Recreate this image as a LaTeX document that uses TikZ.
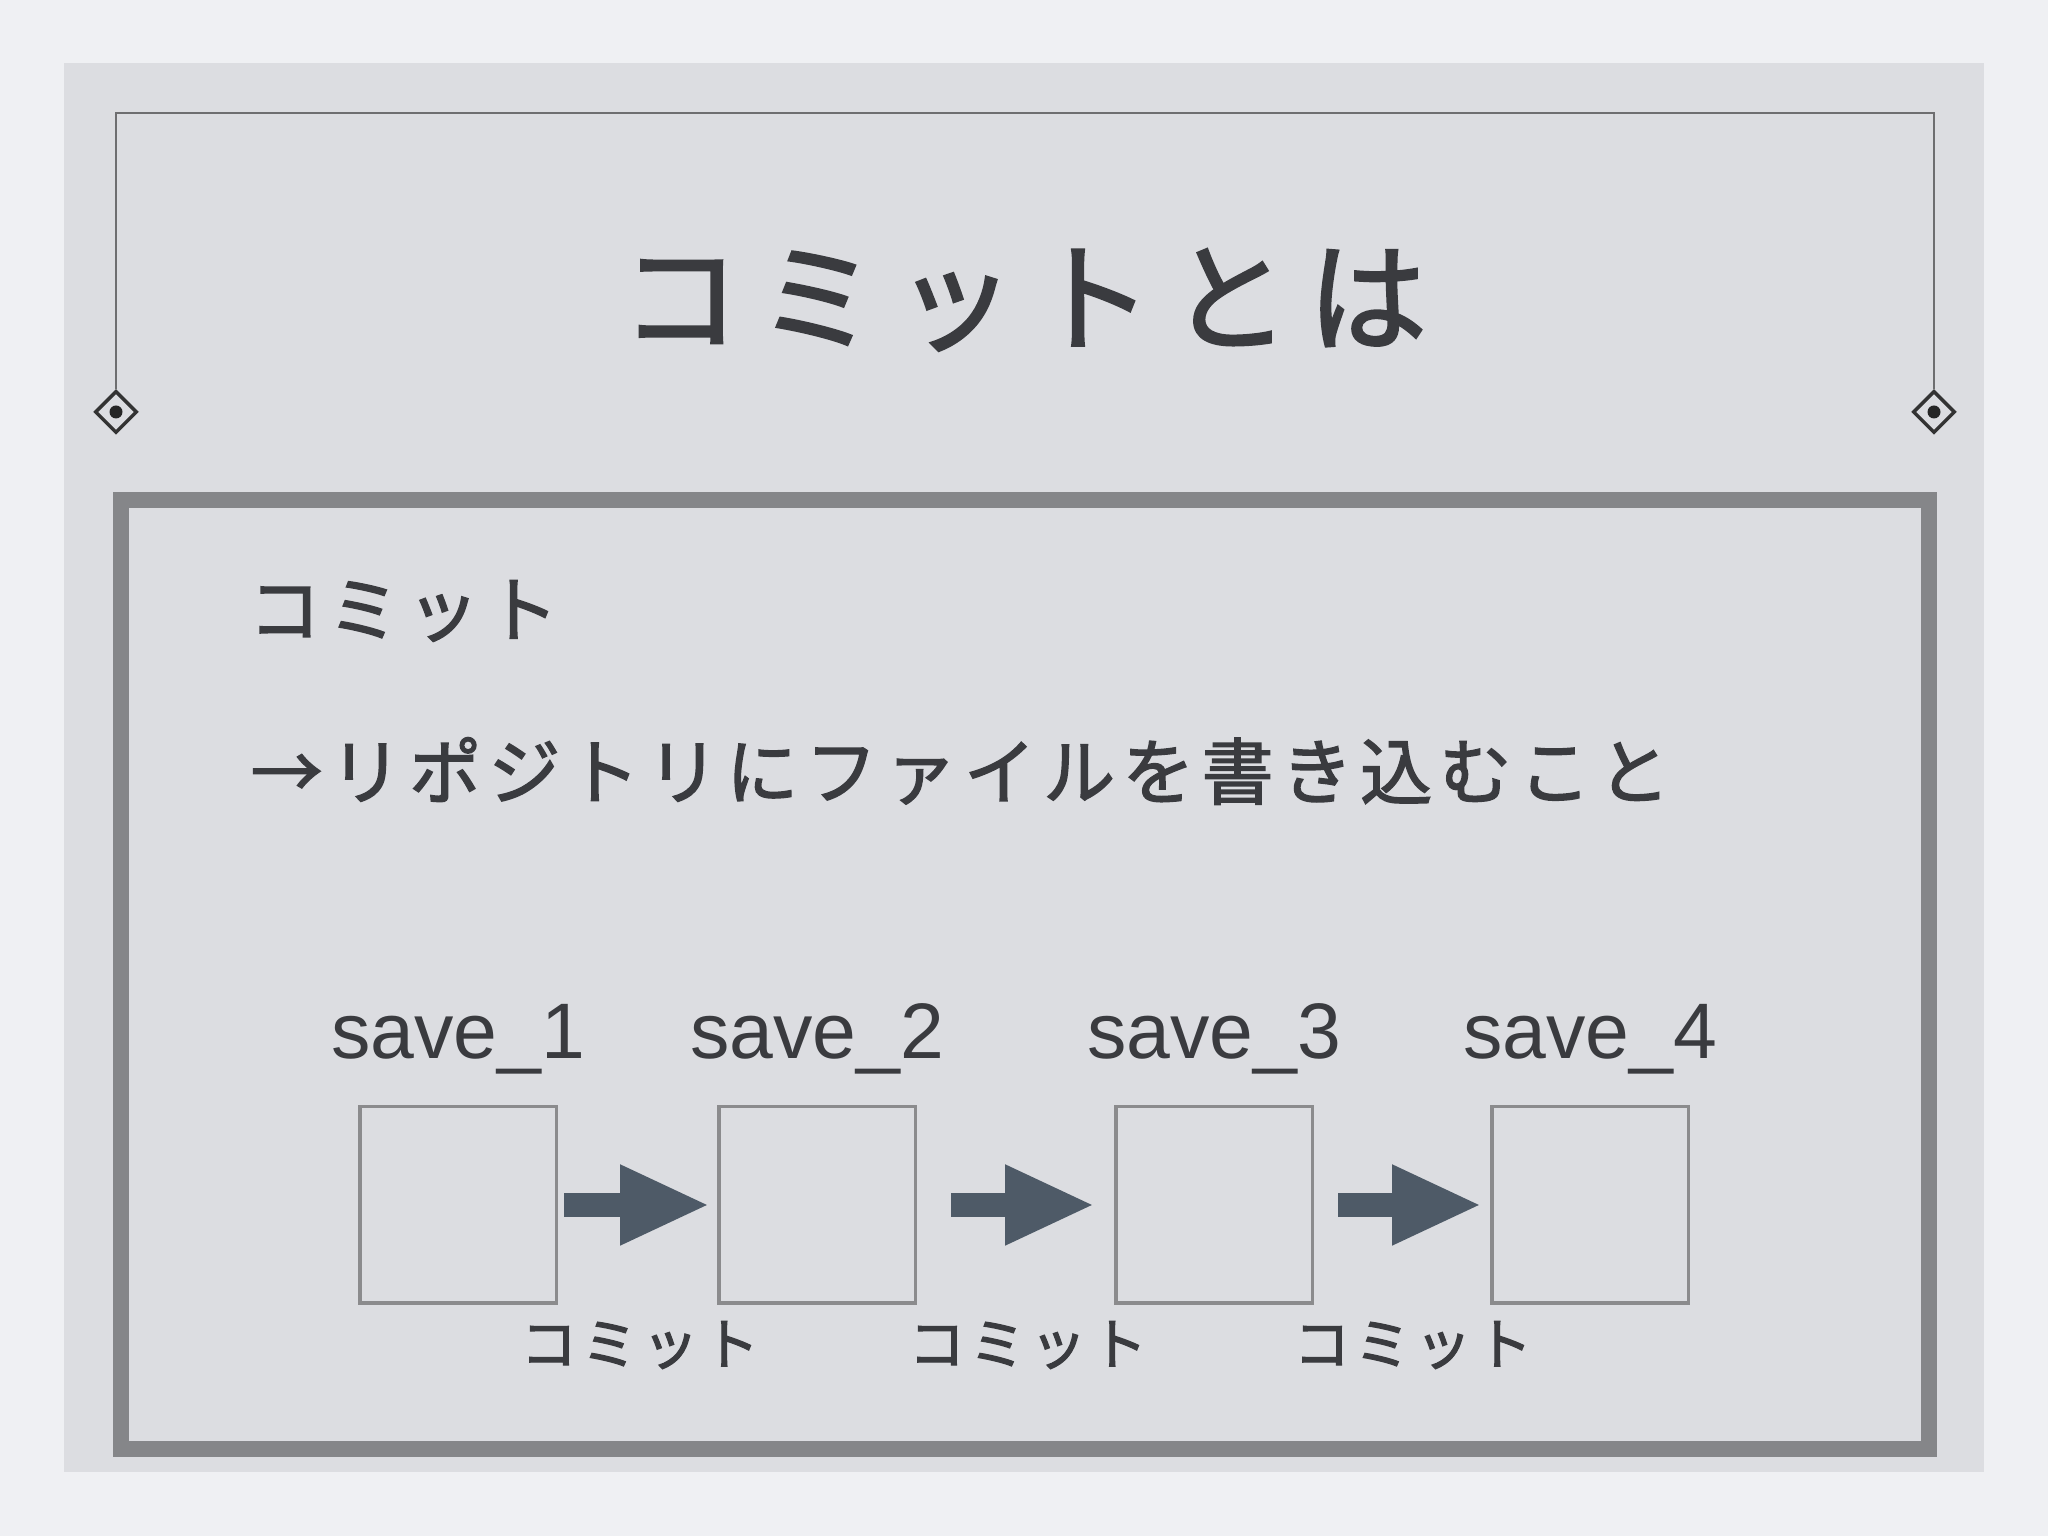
\documentclass[tikz,border=0pt]{standalone}
\usepackage{fontspec}
\setmainfont{Liberation Sans}
\newfontfamily\jptitre[LetterSpace=15,FakeBold=2]{Noto Sans CJK JP}
\newfontfamily\jptexte[LetterSpace=10,FakeBold=2]{Noto Sans CJK JP}
\newfontfamily\jpnote[LetterSpace=8,FakeBold=2]{Noto Sans CJK JP}
\usetikzlibrary{arrows.meta,positioning,calc,shapes.geometric}
\definecolor{fondPage}{RGB}{239,240,243}
\definecolor{fondPanneau}{RGB}{220,221,225}
\definecolor{cadreGris}{RGB}{133,134,137}
\definecolor{texteSombre}{RGB}{58,59,63}
\definecolor{filetGris}{RGB}{110,110,112}
\definecolor{boiteGris}{RGB}{139,139,141}
\definecolor{flecheArdoise}{RGB}{78,90,103}

\begin{document}
\begin{tikzpicture}[x=1cm,y=1cm,
      titre/.style={font=\jptitre\fontsize{34}{40}\selectfont,text=texteSombre,inner sep=0pt},
      corps/.style={font=\jptexte\fontsize{20.5}{24}\selectfont,text=texteSombre,inner sep=0pt,anchor=west},
      note/.style={font=\jpnote\fontsize{16}{19}\selectfont,text=texteSombre,inner sep=0pt},
      etat/.style={draw=boiteGris,line width=0.035cm,minimum size=1.965cm,inner sep=0pt},
      etiquette/.style={font=\fontsize{22.4}{26}\selectfont,text=texteSombre,inner sep=0pt,anchor=base},
      coin/.style={diamond,draw=black!80,line width=0.035cm,fill=fondPanneau,
        minimum width=0.42cm,minimum height=0.42cm,inner sep=0pt},
      commit/.style={draw=flecheArdoise,line width=0.24cm,
        -{Triangle[length=0.90cm,width=0.74cm]}}]

    % Fond de la page et panneau de la diapositive.
    \fill[fondPage] (0,0) rectangle (20.48,15.36);
    \fill[fondPanneau] (0.64,0.64) rectangle (19.84,14.73);

    % Cadre du titre avec ses deux coins en losange.
    \node[coin] (coinG) at (1.16,11.24) {};
    \node[coin] (coinD) at (19.34,11.24) {};
    \fill[black!85] (coinG.center) circle (0.065);
    \fill[black!85] (coinD.center) circle (0.065);
    \draw[filetGris,line width=0.02cm] (coinG.north) -- (1.16,14.23) -| (coinD.north);
    \node[titre] (titre) at (10.24,12.36) {コミットとは};

    % Cadre du contenu.
    \draw[cadreGris,line width=0.16cm] (1.21,0.87) rectangle (19.29,10.36);
    \node[corps] (mot) at (2.48,9.25) {コミット};
    \node[corps] (def) at (2.50,7.65) {→リポジトリにファイルを書き込むこと};

    % Les quatre sauvegardes successives.
    \node[etat] (save1) at (4.58,3.31) {};
    \node[etat] (save2) at (8.17,3.31) {};
    \node[etat] (save3) at (12.14,3.31) {};
    \node[etat] (save4) at (15.90,3.31) {};
    \foreach \i in {1,...,4}
      \node[etiquette] (lab\i) at ([yshift=0.46cm]save\i.north) {save\_\i};

    % Une commit entre deux sauvegardes.
    \draw[commit,shorten <=0.06cm,shorten >=0.07cm] (save1) -- (save2);
    \draw[commit,shorten <=0.34cm,shorten >=0.19cm] (save2) -- (save3);
    \draw[commit,shorten <=0.24cm,shorten >=0.08cm] (save3) -- (save4);
    \node[note] (c1) at (6.40,1.91) {コミット};
    \node[note] (c2) at (10.28,1.91) {コミット};
    \node[note] (c3) at (14.13,1.91) {コミット};
  \end{tikzpicture}
\end{document}
